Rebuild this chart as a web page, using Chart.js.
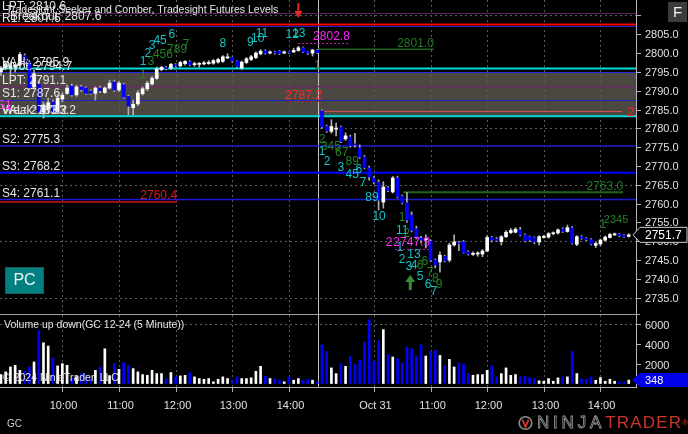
<!DOCTYPE html>
<html lang="en">
<head>
<meta charset="UTF-8">
<title>GC 12-24 (5 Minute)</title>
<script src="https://cdn.jsdelivr.net/npm/chart.js"></script>
<style>
  html, body { margin: 0; padding: 0; background: #000; }
  body { width: 688px; height: 434px; position: relative; overflow: hidden; font-family: "Liberation Sans", Arial, sans-serif; }
  #price { position: absolute; left: 0; top: 0; }
  #volume { position: absolute; left: 0; top: 315px; }
  #sym { position: absolute; left: 7px; top: 418px; color: #cfcfcf; font-size: 10px; }
  #logo { position: absolute; left: 518px; top: 414px; height: 18px; white-space: nowrap; font-size: 17px; line-height: 18px; }
  #logo svg { vertical-align: top; margin-right: 4px; }
  #logo .ninja { color: transparent; -webkit-text-stroke: 0.8px #9a9a9a; letter-spacing: 3.8px; }
  #logo .trader { color: #c9342b; letter-spacing: 1.2px; }
  #logo sup { color: #c9342b; font-size: 8px; vertical-align: top; }
</style>
</head>
<body>
<canvas id="price" width="688" height="315"></canvas>
<canvas id="volume" width="688" height="119"></canvas>
<div id="sym">GC</div>
<div id="logo"><svg width="15" height="18" viewBox="0 0 15 18"><circle cx="7.5" cy="9" r="6.3" fill="none" stroke="#8c8c8c" stroke-width="1.6"/><path d="M4.5 5.5 L7.5 13 L10.5 5.5" fill="none" stroke="#c9342b" stroke-width="2"/></svg><span class="ninja">NINJA</span><span class="trader">TRADER</span><sup>®</sup></div>

<script>
    // 5 minute bars, Oct 30 (slots 0-67) and Oct 31 (slots 68-133)
    const opens = [
        2795.0, 2796.0, 2796.0, 2796.3, 2796.8, 2799.3, 2797.5, 2791.0, 2791.8, 2784.3,
        2785.2, 2787.0, 2784.5, 2787.8, 2789.3, 2791.2, 2788.9, 2791.0, 2790.7, 2789.9,
        2789.3, 2790.7, 2789.5, 2790.7, 2792.3, 2790.2, 2791.6, 2788.5, 2785.5, 2786.5,
        2789.2, 2790.5, 2791.8, 2793.3, 2795.6, 2796.2, 2796.0, 2796.9, 2796.6, 2797.2,
        2797.7, 2796.9, 2797.0, 2797.1, 2797.2, 2797.3, 2797.6, 2797.8, 2798.7, 2798.9,
        2797.9, 2796.0, 2797.5, 2798.3, 2798.8, 2799.8, 2800.6, 2800.0, 2800.3, 2800.5,
        2800.0, 2800.3, 2800.3, 2800.7, 2801.4, 2800.3, 2800.0, 2800.8,
        2784.6, 2780.6, 2779.2, 2779.8, 2780.3, 2777.2, 2777.7, 2775.8, 2774.8, 2772.4,
        2769.5, 2766.8, 2765.7, 2760.4, 2764.2, 2763.1, 2766.8, 2762.0, 2760.2, 2756.9,
        2753.3, 2750.8, 2750.4, 2750.0, 2745.0, 2744.5, 2746.0, 2745.0, 2749.0, 2749.5,
        2749.8, 2747.2, 2746.5, 2746.6, 2746.6, 2747.4, 2751.0, 2750.6, 2749.9, 2751.2,
        2752.3, 2752.4, 2753.0, 2751.7, 2751.2, 2751.0, 2749.8, 2751.0, 2751.1, 2752.0,
        2752.2, 2753.3, 2752.6, 2753.5, 2749.2, 2751.2, 2750.8, 2750.4, 2748.9, 2749.3,
        2750.3, 2751.0, 2751.7, 2751.9, 2751.6, 2751.3
    ];
    const highs = [
        2796.5, 2797.5, 2797.2, 2797.0, 2800.2, 2799.8, 2798.0, 2795.5, 2792.5, 2787.0,
        2788.0, 2787.5, 2789.0, 2789.5, 2791.5, 2791.8, 2791.5, 2791.5, 2791.0, 2790.2,
        2791.0, 2791.2, 2791.0, 2792.8, 2792.8, 2792.5, 2792.0, 2788.8, 2787.5, 2790.0,
        2791.0, 2792.5, 2793.8, 2796.3, 2796.5, 2796.5, 2797.3, 2797.2, 2797.8, 2798.0,
        2798.0, 2797.6, 2797.5, 2797.8, 2798.0, 2798.3, 2798.6, 2799.3, 2799.8, 2799.0,
        2798.0, 2797.9, 2798.8, 2799.4, 2800.3, 2800.9, 2800.9, 2800.6, 2800.5, 2800.7,
        2800.6, 2800.4, 2801.3, 2801.8, 2801.6, 2800.4, 2801.0, 2801.0,
        2784.9, 2780.9, 2782.3, 2781.4, 2780.6, 2778.8, 2778.2, 2778.7, 2775.6, 2772.8,
        2770.0, 2767.2, 2766.3, 2765.8, 2764.5, 2767.2, 2767.3, 2762.3, 2763.0, 2757.8,
        2754.0, 2751.3, 2751.7, 2750.4, 2745.3, 2747.2, 2746.3, 2749.5, 2751.7, 2750.0,
        2750.2, 2747.5, 2747.2, 2747.2, 2747.8, 2751.5, 2751.3, 2751.0, 2751.5, 2752.8,
        2753.4, 2753.6, 2753.7, 2752.0, 2751.4, 2751.2, 2751.5, 2751.6, 2752.3, 2752.5,
        2753.3, 2753.6, 2754.3, 2753.9, 2751.5, 2751.5, 2751.0, 2750.7, 2749.7, 2750.6,
        2751.4, 2752.1, 2752.2, 2752.1, 2751.8, 2752.0
    ];
    const lows = [
        2794.0, 2795.5, 2794.3, 2795.0, 2796.5, 2797.0, 2790.3, 2790.5, 2783.8, 2782.7,
        2784.0, 2783.8, 2784.0, 2787.0, 2789.0, 2788.5, 2788.5, 2789.8, 2789.0, 2789.0,
        2787.5, 2789.5, 2789.3, 2790.5, 2789.8, 2789.8, 2788.0, 2783.6, 2783.5, 2786.0,
        2788.8, 2790.0, 2791.5, 2793.0, 2795.3, 2795.5, 2795.6, 2796.3, 2796.3, 2796.8,
        2796.6, 2796.5, 2796.2, 2796.9, 2797.0, 2797.0, 2797.3, 2797.5, 2798.5, 2797.5,
        2796.2, 2795.6, 2797.2, 2798.0, 2798.5, 2799.5, 2799.7, 2799.8, 2799.7, 2799.6,
        2799.8, 2799.9, 2800.1, 2800.5, 2800.1, 2799.6, 2799.2, 2799.9,
        2780.0, 2778.9, 2778.7, 2778.0, 2776.2, 2776.8, 2775.0, 2775.0, 2772.0, 2769.2,
        2766.2, 2765.2, 2758.3, 2758.8, 2763.2, 2762.8, 2761.5, 2759.9, 2755.0, 2752.5,
        2750.6, 2749.5, 2748.2, 2744.6, 2742.9, 2741.8, 2744.5, 2744.5, 2748.7, 2747.5,
        2746.8, 2746.3, 2746.2, 2746.0, 2745.9, 2747.2, 2749.8, 2749.9, 2749.0, 2751.0,
        2752.0, 2752.2, 2751.4, 2749.8, 2749.9, 2749.3, 2749.0, 2750.8, 2750.8, 2751.7,
        2751.9, 2752.3, 2752.4, 2749.2, 2748.8, 2750.5, 2750.1, 2749.0, 2748.3, 2748.8,
        2750.0, 2750.8, 2751.5, 2751.2, 2751.0, 2751.1
    ];
    const closes = [
        2796.0, 2797.0, 2796.6, 2796.8, 2799.6, 2797.5, 2790.8, 2794.5, 2784.3, 2786.2,
        2786.8, 2784.3, 2788.0, 2788.8, 2790.7, 2788.9, 2791.0, 2790.3, 2789.3, 2789.3,
        2790.7, 2790.0, 2790.7, 2792.0, 2790.2, 2792.0, 2788.3, 2785.9, 2786.4, 2789.4,
        2790.5, 2792.0, 2793.3, 2795.8, 2796.2, 2795.9, 2797.0, 2796.6, 2797.5, 2797.8,
        2796.9, 2797.2, 2797.2, 2797.4, 2797.5, 2798.0, 2798.3, 2799.0, 2799.0, 2797.9,
        2796.4, 2797.6, 2798.5, 2799.0, 2800.0, 2800.5, 2800.0, 2800.3, 2800.0, 2799.9,
        2800.3, 2800.1, 2800.7, 2801.4, 2800.3, 2800.0, 2800.8, 2800.1,
        2780.4, 2779.3, 2780.5, 2780.0, 2776.5, 2778.0, 2775.4, 2775.6, 2772.4, 2769.5,
        2767.1, 2765.7, 2760.9, 2764.4, 2763.5, 2766.8, 2761.8, 2760.2, 2755.6, 2752.9,
        2751.2, 2750.3, 2750.6, 2745.0, 2743.7, 2746.3, 2744.8, 2749.0, 2749.8, 2749.3,
        2747.0, 2746.6, 2746.8, 2746.9, 2747.4, 2751.0, 2750.3, 2750.2, 2751.2, 2752.4,
        2752.9, 2753.2, 2751.7, 2750.1, 2750.3, 2749.8, 2751.2, 2751.3, 2752.0, 2752.2,
        2753.0, 2752.6, 2753.6, 2749.5, 2751.2, 2750.8, 2750.4, 2749.3, 2749.4, 2750.3,
        2751.1, 2751.8, 2751.9, 2751.5, 2751.2, 2751.7
    ];
    const volumes = [
        900, 1170, 1670, 1830, 1330, 1230, 1670, 2170, 5330, 4100,
        3770, 2570, 1770, 2000, 1830, 500, 700, 1000, 900, 500,
        1330, 1670, 3500, 800, 2000, 1430, 2100, 1830, 1500, 1170,
        900, 830, 1330, 1000, 1000, 500, 1100, 670, 770, 830,
        1100, 670, 500, 430, 500, 170, 430, 670, 500, 330,
        670, 500, 500, 570, 1230, 1730, 730, 500, 500, 330,
        170, 670, 330, 500, 330, 430, 330, 170,
        3900, 3230, 1570, 1000, 2000, 1730, 2730, 1930, 2330, 4170,
        6430, 2230, 4330, 5430, 2900, 2670, 2500, 2070, 3670, 3500,
        2770, 3900, 2770, 3230, 3330, 2830, 1830, 2430, 1670, 2070,
        1930, 1000, 830, 900, 900, 1330, 1770, 670, 1000, 1570,
        830, 900, 670, 730, 600, 500, 270, 230, 500, 230,
        570, 670, 670, 3230, 1000, 430, 430, 670, 330, 600,
        230, 430, 230, 170, 170, 348
    ];

    // axes
    const priceTicks = [2735, 2740, 2745, 2750, 2755, 2760, 2765, 2770, 2775, 2780, 2785, 2790, 2795, 2800, 2805];
    const priceGrid = [2735, 2750, 2765, 2780, 2795, 2810];
    const volumeTicks = [2000, 4000, 6000];
    const volumeGrid = [6000];
    const timeTickSlots = [13, 25, 37, 49, 61, 79, 91, 103, 115, 127];
    const timeTickLabels = ['10:00', '11:00', '12:00', '13:00', '14:00', 'Oct 31', '11:00', '12:00', '13:00', '14:00'];
    const sessionBreak = 67.1;

    // Tradesight futures levels
    const levelLabels = ['LPT: 2810.6', '', 'Breakout: 2807.6', 'R1: 2807.6', 'VAH: 2795.9', 'Pivot: 2794.7',
                         'LPT: 2791.1', 'S1: 2787.6', 'Weak: 2783.2', 'VAL: 2783.2', 'S2: 2775.3', 'S3: 2768.2', 'S4: 2761.1'];
    const levelPrices = [2810.6, 2807.2, 2807.6, 2807.6, 2795.9, 2794.9, 2791.1, 2787.6, 2783.2, 2783.2, 2775.3, 2768.2, 2761.1];
    const zoneTop = 2794.9, zoneBottom = 2783.2;

    // seeker / comber target lines
    const segPrices = [2802.8, 2801.0, 2787.2, 2784.5, 2763.0, 2760.4, 2747.9];
    const segStart = [62.9, 67.2, 61.2, 68.0, 85.2, -0.2, 83.5];
    const segEnd = [73.9, 91.7, 68.0, 131.6, 131.8, 37.3, 90.9];
    const segLabels = ['2802.8', '2801.0', '2787.2', '2', '2763.0', '2760.4', '2747.9'];

    // seeker / comber counts
    const seekSlot = [30.1, 31.1, 32.0, 33.7, 36.2, 47.0, 52.8, 54.4, 55.3, 61.7, 63.1,
                      30.1, 31.8, 34.3, 37.3, 39.2, 67.0,
                      68.0, 68.0, 69.9, 69.1, 72.2, 74.4, 72.0, 74.4, 75.8, 76.7, 78.6, 80.1, 85.0, 85.0, 86.0,
                      84.5, 85.0, 87.5, 86.4, 87.5, 88.8, 89.8, 88.8, 90.9, 92.0, 92.8, 90.5, 91.7, 127.5, 130.3, 82.2];
    const seekPrice = [2797.6, 2799.8, 2801.9, 2803.2, 2804.8, 2802.4, 2802.7, 2803.8, 2805.1, 2804.8, 2805.1,
                       2794.2, 2797.6, 2799.5, 2800.8, 2802.2, 2796.6,
                       2776.9, 2773.7, 2775.0, 2771.1, 2773.5, 2771.1, 2769.5, 2767.6, 2769.0, 2765.5, 2761.5, 2756.5, 2756.2, 2752.7, 2751.9,
                       2748.2, 2745.0, 2746.4, 2743.2, 2743.4, 2743.4, 2744.5, 2740.5, 2741.6, 2740.0, 2738.4, 2738.4, 2736.5, 2754.3, 2755.7, 2749.6];
    const seekText = ['1', '2', '3', '45', '6', '8', '9', '10', '11', '12', '13',
                      '1', '3', '456', '789', '7', '1',
                      '2', '1', '345', '2', '67', '89', '3', '45', '6', '7', '89', '10', '1', '11', '2',
                      '1', '2', '13', '3', '4', '6', '6', '5', '7', '8', '9', '6', '7', '1', '2345', '2'];
    const seekKind = ['c', 'c', 'c', 'c', 'c', 'c', 'c', 'c', 'c', 'c', 'c',
                      'g', 'g', 'g', 'g', 'g', 'g',
                      'g', 'c', 'g', 'c', 'g', 'g', 'c', 'c', 'c', 'c', 'c', 'c', 'g', 'c', 'g',
                      'c', 'c', 'c', 'c', 'c', 'g', 'g', 'c', 'g', 'g', 'g', 'c', 'c', 'g', 'g', 'm'];

    // signal arrows: slot, tip price, direction
    const arrowSlot = [63.0, 86.7];
    const arrowPrice = [2809.3, 2741.0];
    const arrowDir = ['down', 'up'];

    const PRICE_MIN = 2730.4, PRICE_MAX = 2814.1;
    const SLOT_MIN = -0.21, SLOT_MAX = 134.53;
    const FONT = '"Liberation Sans", Arial, sans-serif';
    const BLUE = '#0000ff';

    const upBar = opens.map((o, i) => closes[i] >= o);

    const levelStyle = [
        ['#5e2160', 1], ['#2323cc', 1], [null, 0], ['#ff0000', 2], ['#00dcdc', 2], ['#2828e0', 1],
        ['#6a2a6a', 1.5], ['#2020c8', 1], [null, 0], ['#00dcdc', 2], ['#1c1cd2', 1.5], ['#0000ff', 2], ['#1c1cd2', 1.5]
    ];
    const segStyle = [
        { line: '#c81ec8', text: '#ff22ff', w: 1, dash: [2, 2] },
        { line: '#1e641e', text: '#1f7a1f', w: 1.5, dash: [] },
        { line: '#b02828', text: '#ff2828', w: 1, dash: [2, 2] },
        { line: '#d25050', text: '#ff2020', w: 1, dash: [] },
        { line: '#1e641e', text: '#1f7a1f', w: 2, dash: [] },
        { line: '#9b0d0d', text: '#e01818', w: 2, dash: [] },
        { line: '#b020b0', text: '#ff30ff', w: 1, dash: [2, 2] }
    ];
    const seekColor = { c: '#14c4c4', g: '#248224', m: '#ff30ff' };

    function hline(ctx, x1, x2, y) {
        ctx.beginPath(); ctx.moveTo(x1, y); ctx.lineTo(x2, y); ctx.stroke();
    }
    function vline(ctx, x, y1, y2) {
        ctx.beginPath(); ctx.moveTo(x, y1); ctx.lineTo(x, y2); ctx.stroke();
    }
    function crisp(v) { return Math.round(v) + 0.5; }

    const pricePanel = {
        id: 'pricePanel',
        beforeDatasetsDraw(chart) {
            const { ctx, chartArea: a, scales: { x, y } } = chart;
            ctx.save();
            // value area
            const zt = y.getPixelForValue(zoneTop), zb = y.getPixelForValue(zoneBottom);
            ctx.fillStyle = '#4b4842';
            ctx.fillRect(a.left, zt, a.right - a.left, zb - zt);

            // dotted grid
            ctx.strokeStyle = '#5c5c5c';
            ctx.lineWidth = 1;
            ctx.setLineDash([2, 3]);
            priceGrid.forEach(v => hline(ctx, a.left, a.right, crisp(y.getPixelForValue(v))));
            timeTickSlots.forEach(s => vline(ctx, crisp(x.getPixelForValue(s)), a.top, a.bottom));
            ctx.setLineDash([]);

            // session break
            ctx.strokeStyle = '#c4c4c4';
            vline(ctx, crisp(x.getPixelForValue(sessionBreak)), a.top, a.bottom);

            // levels
            levelPrices.forEach((p, i) => {
                const [col, w] = levelStyle[i];
                if (!col) return;
                ctx.strokeStyle = col;
                ctx.lineWidth = w;
                const py = y.getPixelForValue(p);
                hline(ctx, a.left, a.right, w === 1 ? crisp(py) : py);
            });

            // target segments
            segPrices.forEach((p, i) => {
                const st = segStyle[i];
                ctx.strokeStyle = st.line;
                ctx.lineWidth = st.w;
                ctx.setLineDash(st.dash);
                const py = y.getPixelForValue(p);
                hline(ctx, x.getPixelForValue(segStart[i]), x.getPixelForValue(segEnd[i]), st.w === 1 ? crisp(py) : py);
            });
            ctx.restore();
        },
        afterDatasetsDraw(chart) {
            const { ctx, chartArea: a, scales: { x, y } } = chart;
            ctx.save();
            ctx.textBaseline = 'middle';

            // level labels
            ctx.font = '12px ' + FONT;
            ctx.fillStyle = '#e6e6e6';
            ctx.textAlign = 'left';
            levelLabels.forEach((t, i) => {
                if (t) ctx.fillText(t, i === 2 ? 10 : 2, y.getPixelForValue(levelPrices[i]) - (i === 2 ? 8 : 6));
            });
            ctx.fillStyle = '#ff30ff';
            ctx.fillText('S1', -3, y.getPixelForValue(2786.0));

            // title
            ctx.font = '10.5px ' + FONT;
            ctx.fillStyle = '#e6e6e6';
            ctx.fillText('Tradesight Seeker and Comber, Tradesight Futures Levels', 6, 10);

            // segment labels
            ctx.font = '12px ' + FONT;
            segPrices.forEach((p, i) => {
                ctx.fillStyle = segStyle[i].text;
                const py = y.getPixelForValue(p);
                const ex = x.getPixelForValue(segEnd[i]);
                if (segLabels[i].length === 1) {
                    ctx.textAlign = 'left';
                    ctx.font = '13px ' + FONT;
                    ctx.fillText(segLabels[i], ex + 5, py + 1);
                    ctx.font = '12px ' + FONT;
                } else {
                    ctx.textAlign = 'right';
                    ctx.fillText(segLabels[i], ex, py - 6);
                }
            });

            // seeker counts
            ctx.textAlign = 'center';
            seekText.forEach((t, i) => {
                ctx.font = (t.length > 3 ? '11px ' : '12px ') + FONT;
                ctx.fillStyle = seekColor[seekKind[i]];
                ctx.fillText(t, x.getPixelForValue(seekSlot[i]), y.getPixelForValue(seekPrice[i]));
            });

            // arrows
            arrowSlot.forEach((s, i) => {
                const ax = x.getPixelForValue(s), ay = y.getPixelForValue(arrowPrice[i]);
                const d = arrowDir[i] === 'down' ? -1 : 1;
                ctx.fillStyle = d < 0 ? '#e8281e' : '#3d8b3d';
                const hw = d < 0 ? 4 : 5;
                ctx.beginPath();
                ctx.moveTo(ax, ay);
                ctx.lineTo(ax - hw, ay + d * 7);
                ctx.lineTo(ax + hw, ay + d * 7);
                ctx.closePath();
                ctx.fill();
                const sw = d < 0 ? 2 : 3;
                ctx.fillRect(ax - sw / 2, d < 0 ? ay - 15 : ay + 6, sw, 9);
            });

            // PC button
            ctx.fillStyle = '#008080';
            ctx.fillRect(5, 267, 39, 27);
            ctx.strokeStyle = '#1d5a5a';
            ctx.lineWidth = 1;
            ctx.strokeRect(5.5, 267.5, 38, 26);
            ctx.fillStyle = '#f0f0f0';
            ctx.font = '16px ' + FONT;
            ctx.textAlign = 'center';
            ctx.fillText('PC', 24.5, 281);

            // right price axis
            ctx.strokeStyle = '#b4b4b4';
            ctx.lineWidth = 1;
            vline(ctx, a.right + 0.5, 0, chart.height);
            ctx.font = '11px ' + FONT;
            ctx.fillStyle = '#e0e0e0';
            ctx.textAlign = 'left';
            priceTicks.concat([2810]).forEach(v => {
                const py = crisp(y.getPixelForValue(v));
                hline(ctx, a.right, a.right + 5, py);
                if (priceTicks.includes(v)) ctx.fillText(v.toFixed(1), a.right + 9, py);
            });

            // last price marker
            const last = closes[closes.length - 1];
            const ly = y.getPixelForValue(last);
            ctx.beginPath();
            ctx.moveTo(a.right - 3, ly);
            ctx.lineTo(a.right + 4, ly - 7.5);
            ctx.lineTo(chart.width - 1, ly - 7.5);
            ctx.lineTo(chart.width - 1, ly + 7.5);
            ctx.lineTo(a.right + 4, ly + 7.5);
            ctx.closePath();
            ctx.fillStyle = '#000';
            ctx.fill();
            ctx.strokeStyle = '#cfcfcf';
            ctx.stroke();
            ctx.fillStyle = '#ffffff';
            ctx.font = '12px ' + FONT;
            ctx.fillText(last.toFixed(1), a.right + 9, ly + 0.5);

            // F box
            ctx.fillStyle = '#3c3c3c';
            ctx.fillRect(668, 2, 19, 20);
            ctx.fillStyle = '#f2f2f2';
            ctx.font = '15px ' + FONT;
            ctx.textAlign = 'center';
            ctx.fillText('F', 677.5, 12.5);

            // panel separator
            ctx.strokeStyle = '#a0a0a0';
            hline(ctx, 0, a.right + 4, chart.height - 0.5);
            ctx.restore();
        }
    };

    const volumePanel = {
        id: 'volumePanel',
        beforeDatasetsDraw(chart) {
            const { ctx, chartArea: a, scales: { x, y } } = chart;
            ctx.save();
            ctx.strokeStyle = '#5c5c5c';
            ctx.lineWidth = 1;
            ctx.setLineDash([2, 3]);
            volumeGrid.forEach(v => hline(ctx, a.left, a.right, crisp(y.getPixelForValue(v))));
            timeTickSlots.forEach(s => vline(ctx, crisp(x.getPixelForValue(s)), 0, a.bottom));
            ctx.setLineDash([]);
            ctx.strokeStyle = '#c4c4c4';
            vline(ctx, crisp(x.getPixelForValue(sessionBreak)), 0, a.bottom);

            ctx.textBaseline = 'middle';
            ctx.textAlign = 'left';
            ctx.fillStyle = '#e6e6e6';
            ctx.font = '10.5px ' + FONT;
            ctx.fillText('Volume up down(GC 12-24 (5 Minute))', 4, 10);
            ctx.restore();
        },
        afterDatasetsDraw(chart) {
            const { ctx, chartArea: a, scales: { x, y } } = chart;
            ctx.save();
            ctx.textBaseline = 'middle';
            ctx.textAlign = 'left';
            ctx.fillStyle = '#e6e6e6';
            ctx.font = '10.5px ' + FONT;
            ctx.fillText('\u00a9 2024 NinjaTrader, LLC', 3, 63);

            ctx.strokeStyle = '#b4b4b4';
            ctx.lineWidth = 1;
            vline(ctx, a.right + 0.5, 0, a.bottom + 1);
            hline(ctx, 0, a.right + 1, a.bottom + 0.5);

            ctx.font = '11px ' + FONT;
            ctx.fillStyle = '#e0e0e0';
            volumeTicks.forEach(v => {
                const py = crisp(y.getPixelForValue(v));
                hline(ctx, a.right, a.right + 5, py);
                ctx.fillText(String(v), a.right + 9, py + 1);
            });

            // time axis
            ctx.textAlign = 'center';
            timeTickSlots.forEach((s, i) => {
                const px = crisp(x.getPixelForValue(s));
                vline(ctx, px, a.bottom, a.bottom + 5);
                ctx.fillText(timeTickLabels[i], px + 1, a.bottom + 19);
            });

            // last volume marker
            const lv = volumes[volumes.length - 1];
            const ly = y.getPixelForValue(lv);
            ctx.beginPath();
            ctx.moveTo(a.right - 4, ly);
            ctx.lineTo(a.right + 4, ly - 7);
            ctx.lineTo(chart.width, ly - 7);
            ctx.lineTo(chart.width, ly + 7);
            ctx.lineTo(a.right + 4, ly + 7);
            ctx.closePath();
            ctx.fillStyle = '#0000e6';
            ctx.fill();
            ctx.fillStyle = '#ffffff';
            ctx.textAlign = 'left';
            ctx.fillText(String(lv), a.right + 9, ly + 0.5);
            ctx.restore();
        }
    };

    Chart.defaults.font.family = FONT;

    const slotAxis = { type: 'linear', min: SLOT_MIN, max: SLOT_MAX, offset: false, grid: { offset: false }, display: false };

    new Chart(document.getElementById('price'), {
        type: 'bar',
        data: {
            datasets: [
                {
                    label: 'wicks',
                    data: lows.map((l, i) => ({ x: i, y: [l, highs[i]] })),
                    backgroundColor: '#b0b0b0',
                    barThickness: 1,
                    grouped: false,
                    order: 2
                },
                {
                    label: 'GC 12-24',
                    data: opens.map((o, i) => ({ x: i, y: [o, closes[i]] })),
                    backgroundColor: upBar.map(u => u ? '#ffffff' : BLUE),
                    barThickness: 3,
                    minBarLength: 1,
                    grouped: false,
                    order: 1
                }
            ]
        },
        options: {
            responsive: false,
            animation: false,
            events: [],
            layout: { padding: { left: 0, right: 52, top: 0, bottom: 0 } },
            plugins: { legend: { display: false }, tooltip: { enabled: false } },
            scales: {
                x: slotAxis,
                y: { min: PRICE_MIN, max: PRICE_MAX, display: false }
            }
        },
        plugins: [pricePanel]
    });

    new Chart(document.getElementById('volume'), {
        type: 'bar',
        data: {
            datasets: [{
                label: 'Volume',
                data: volumes.map((v, i) => ({ x: i, y: v })),
                backgroundColor: upBar.map(u => u ? '#ffffff' : BLUE),
                barThickness: 2
            }]
        },
        options: {
            responsive: false,
            animation: false,
            events: [],
            layout: { padding: { left: 0, right: 52, top: 1, bottom: 47 } },
            plugins: { legend: { display: false }, tooltip: { enabled: false } },
            scales: {
                x: slotAxis,
                y: { min: -350, max: 6800, display: false }
            }
        },
        plugins: [volumePanel]
    });
</script>
</body>
</html>
